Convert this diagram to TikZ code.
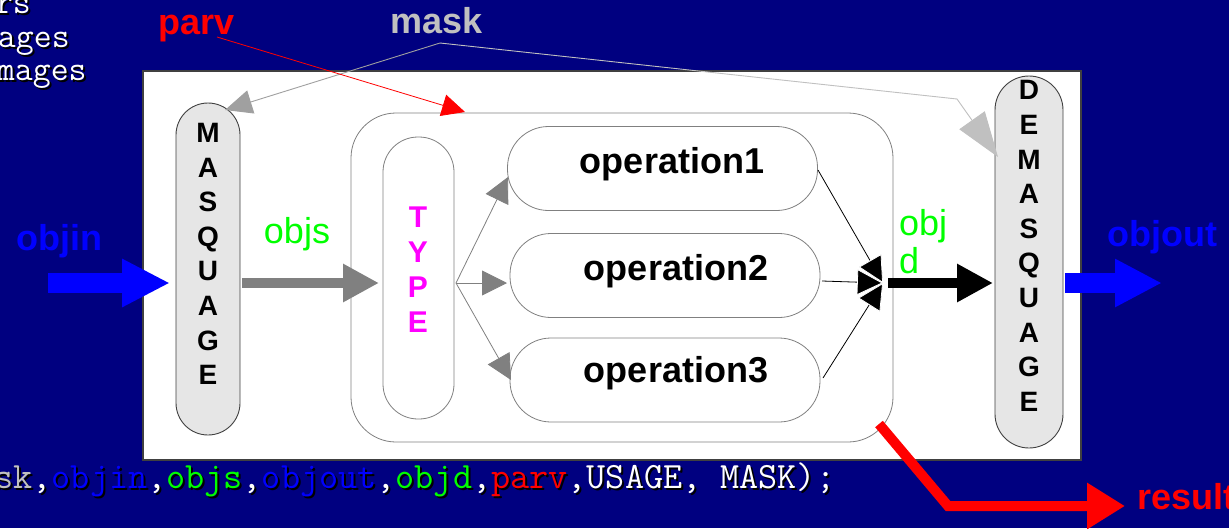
\documentclass[tikz,border=0pt]{standalone}
\usepackage{fontspec}
\setmainfont{Liberation Sans}
\usetikzlibrary{arrows.meta,calc}
\definecolor{navy}{RGB}{0,0,128}
\definecolor{capfill}{RGB}{230,230,230}
\definecolor{silv}{RGB}{192,192,192}
\definecolor{maskgray}{RGB}{160,160,160}
\definecolor{midgray}{RGB}{128,128,128}
\definecolor{darkline}{RGB}{64,64,64}
\definecolor{grn}{RGB}{0,255,0}
\definecolor{blu}{RGB}{0,0,255}
\definecolor{rd}{RGB}{255,0,0}
\definecolor{mag}{RGB}{255,0,255}
\newcommand\codeline[4]{\textcolor{#1}{sk},\textcolor{#2}{objin},\textcolor{#3}{objs},\textcolor{#2}{objout},\textcolor{#3}{objd},\textcolor{#4}{parv},USAGE, MASK);}
\begin{document}
\begin{tikzpicture}[x=1pt,y=-1pt,
  every node/.style={inner sep=0pt, outer sep=0pt},
  capsule/.style={draw=darkline, fill=capfill, line width=0.9pt},
  opbox/.style={draw=midgray, fill=white, line width=0.8pt, rounded corners=41pt, minimum width=310pt, minimum height=84pt},
  boldlbl/.style={font=\bfseries\fontsize{36}{40}\selectfont, anchor=base},
  reglbl/.style={font=\fontsize{36}{38}\selectfont},
  vletters/.style={font=\bfseries\fontsize{28}{34.6}\selectfont, align=center},
  monobig/.style={font=\ttfamily\fontsize{37.1}{38}\selectfont, anchor=base west},
  monotop/.style={font=\ttfamily\fontsize{34.8}{35}\selectfont, anchor=base west},
  thinarrow/.style={line width=0.8pt, -{Triangle[length=25pt,width=25pt]}},
  blackhead/.style={line width=0.8pt, black, -{Triangle[length=26pt,width=26pt,fill=black,color=white]}}
]
\useasboundingbox (0,0) rectangle (1229,528);
\fill[navy] (0,0) rectangle (1229,528);

% top-left code fragments
\foreach \t/\xx/\yy in {rs/-5/13, ages/-2/47, mages/-3/80}{
  \node[monotop, text=black] at (\xx+2,\yy+2) {\t};
  \node[monotop, text=white] at (\xx,\yy) {\t};
}
% bottom code line
\node[monobig, text=black] (codeshadow) at (-3.5,490) {\codeline{black}{black}{black}{black}};
\node[monobig, text=white] (code) at (-5.5,488) {\codeline{silv}{blu}{grn}{rd}};

% white panel
\node[draw=darkline, fill=white, line width=1.2pt, minimum width=938pt, minimum height=389pt] (panel) at (612,265.5) {};

% outer rounded block
\node[draw=midgray, line width=0.8pt, rounded corners=45pt, minimum width=542pt, minimum height=329pt] (outer) at (622,277.5) {};

% capsules
\node[capsule, rounded corners=32pt, minimum width=64pt, minimum height=332pt] (masq) at (208,269) {};
\node[capsule, rounded corners=34pt, minimum width=68pt, minimum height=372pt] (demasq) at (1029,262) {};
\node[draw=midgray, line width=0.8pt, rounded corners=35pt, minimum width=71pt, minimum height=282pt] (type) at (418.5,278) {};

\node[vletters] (masqtxt) at (208,254) {M\\A\\S\\Q\\U\\A\\G\\E};
\node[vletters] (demasqtxt) at (1029,246) {D\\E\\M\\A\\S\\Q\\U\\A\\G\\E};
\node[font=\bfseries\fontsize{30}{35}\selectfont, text=mag, align=center] (typetxt) at (418,269.5) {T\\Y\\P\\E};

% operations
\node[opbox] (op1) at (662.5,168.5) {};
\node[opbox] (op2) at (665,275.5) {};
\node[opbox] (op3) at (665,380) {};
\node[boldlbl] (op1txt) at (672,173) {operation1};
\node[boldlbl] (op2txt) at (676,280) {operation2};
\node[boldlbl] (op3txt) at (676,382) {operation3};

% coordinates
\coordinate (objinS) at (48,283);
\coordinate (junc) at (883,283);
\coordinate (outE) at (1162,283);
\coordinate (tj) at (456,283);
\coordinate (t1) at (508,177);
\coordinate (t2) at (507,283);
\coordinate (t3) at (511,380);
\coordinate (o1) at (818,170);
\coordinate (o2) at (822,281);
\coordinate (o3) at (823,378);
\coordinate (maskS) at (440,43);
\coordinate (masqtip) at (225,110);
\coordinate (maskbend) at (957,99);
\coordinate (demasqtip) at (998,157);
\coordinate (parvS) at (217,37);
\coordinate (parvtip) at (465,112);
\coordinate (resbend) at (948,506);
\coordinate (resend) at (1125,506);

% type branches
\draw[thinarrow, midgray] (tj) -- (t1);
\draw[thinarrow, midgray] (tj) -- (t2);
\draw[thinarrow, midgray] (tj) -- (t3);

% merge into objd
\draw[blackhead] (o1) -- (junc);
\draw[blackhead] (o3) -- (junc);
\draw[blackhead] (o2) -- (junc);

% big arrows
\draw[blu, line width=20pt, -{Triangle[length=48pt,width=45pt]}, shorten >=6pt] (objinS) -- (objinS -| masq.west);
\draw[midgray, line width=10pt, -{Triangle[length=36pt,width=36pt]}, shorten <=2pt, shorten >=4pt] (masq.east |- objinS) -- (type.west |- objinS);
\draw[black, line width=10pt, -{Triangle[length=36pt,width=36pt]}, shorten <=5pt, shorten >=2pt] (junc) -- (junc -| demasq.west);
\draw[blu, line width=20pt, -{Triangle[length=47pt,width=45pt]}, shorten <=2pt] (demasq.east |- junc) -- (outE);
\draw[rd, line width=10pt, line join=miter, -{Triangle[length=38pt,width=44pt]}] ($(outer.south east)+(-14,-18)$) -- (resbend) -- (resend);

% mask and parv
\draw[maskgray, line width=0.9pt, -{Triangle[length=27pt,width=24pt]}] (maskS) -- (masqtip);
\draw[silv, line width=0.9pt, -{Triangle[length=45pt,width=31pt]}] (maskS) -- (maskbend) -- (demasqtip);
\draw[rd, line width=0.8pt, -{Triangle[length=23pt,width=22pt]}] (parvS) -- (parvtip);

% labels
\node[boldlbl, text=silv] (mask) at (436.5,33) {mask};
\node[boldlbl, text=rd] (parv) at (196.5,34) {parv};
\node[boldlbl, text=blu] (objin) at (59,250) {objin};
\node[reglbl, text=grn, anchor=base] (objs) at (297,243) {objs};
\node[reglbl, text=grn, anchor=base west] (objd1) at (899,235) {obj};
\node[reglbl, text=grn, anchor=base west] (objd2) at (899,273) {d};
\node[boldlbl, text=blu] (objout) at (1162,246) {objout};
\node[boldlbl, text=rd, anchor=base west] (result) at (1137,509) {result};
\end{tikzpicture}
\end{document}
